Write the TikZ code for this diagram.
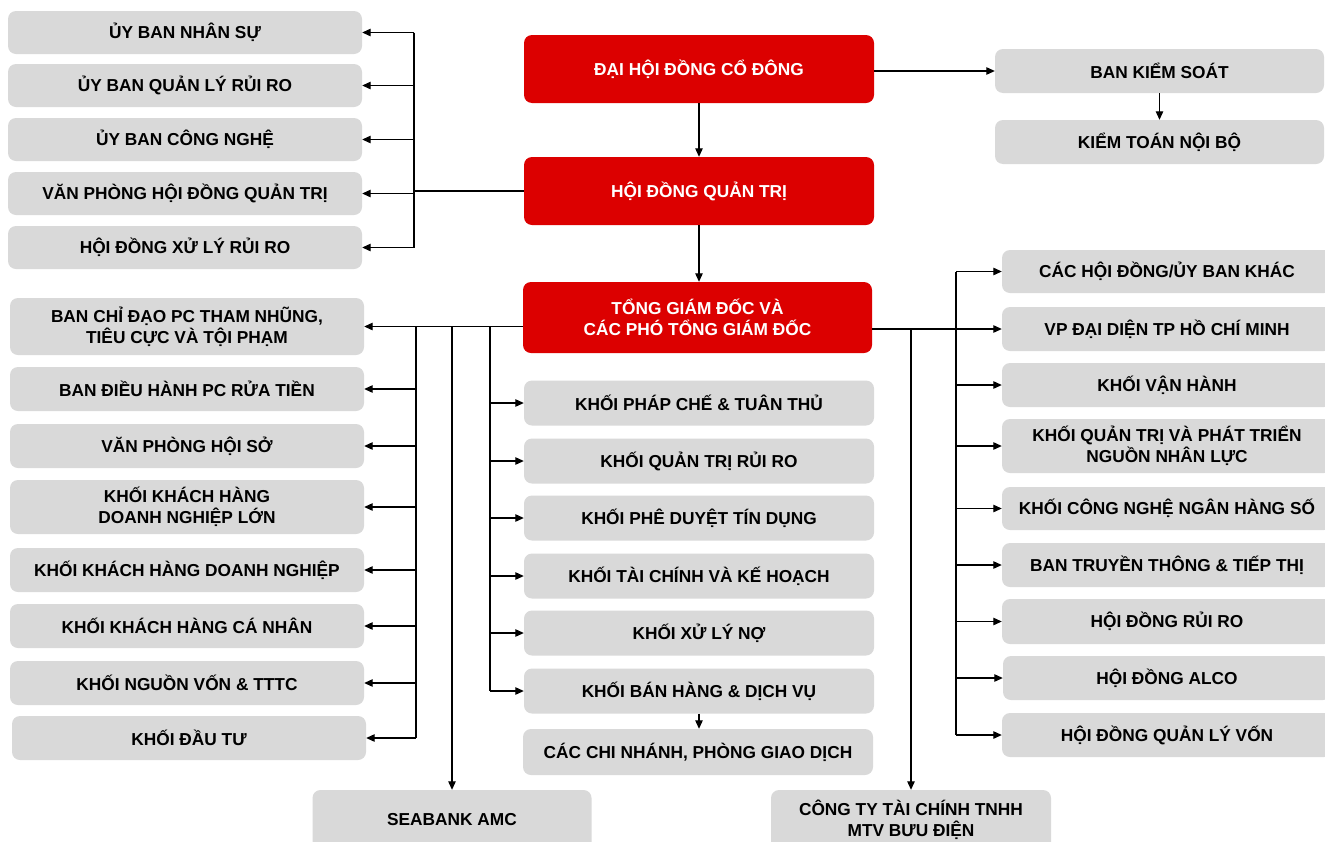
\documentclass[tikz,border=0pt]{standalone}
\usepackage{fontspec}
\setmainfont{Liberation Sans}
\usetikzlibrary{arrows.meta}
\definecolor{boxgray}{HTML}{D9D9D9}
\definecolor{boxred}{HTML}{DC0000}
\begin{document}
\begin{tikzpicture}[x=1pt,y=-1pt,
  gbox/.style={fill=boxgray, rounded corners=8pt, inner sep=0pt, align=center,
    font=\fontsize{17.3}{21}\selectfont\bfseries, text=black},
  rbox/.style={gbox, fill=boxred, text=white},
  conn/.style={line width=1.1pt, draw=black},
  arr/.style={conn, -{Triangle[length=8.5pt,width=7.5pt]}}]
\fill[white] (0,0) rectangle (1325,841);
\useasboundingbox (0,0) rectangle (1325,841);

% top-left committees
\node[gbox, minimum width=354pt, minimum height=43pt] (u1) at (185,32.5) {ỦY BAN NHÂN SỰ};
\node[gbox, minimum width=354pt, minimum height=43pt] (u2) at (185,85.5) {ỦY BAN QUẢN LÝ RỦI RO};
\node[gbox, minimum width=354pt, minimum height=43pt] (u3) at (185,139.5) {ỦY BAN CÔNG NGHỆ};
\node[gbox, minimum width=354pt, minimum height=43pt] (u4) at (185,193.5) {VĂN PHÒNG HỘI ĐỒNG QUẢN TRỊ};
\node[gbox, minimum width=354pt, minimum height=43pt] (u5) at (185,247.5) {HỘI ĐỒNG XỬ LÝ RỦI RO};

% red central
\node[rbox, minimum width=350pt, minimum height=68pt] (dh) at (699,69) {ĐẠI HỘI ĐỒNG CỔ ĐÔNG};
\node[rbox, minimum width=350pt, minimum height=68pt] (hd) at (699,191) {HỘI ĐỒNG QUẢN TRỊ};
\node[rbox, minimum width=349pt, minimum height=71pt] (tg) at (697.5,317.5) {TỔNG GIÁM ĐỐC VÀ\\CÁC PHÓ TỔNG GIÁM ĐỐC};

% top-right
\node[gbox, minimum width=329pt, minimum height=44pt] (bks) at (1159.5,71) {BAN KIỂM SOÁT};
\node[gbox, minimum width=329pt, minimum height=44pt] (kt) at (1159.5,142) {KIỂM TOÁN NỘI BỘ};

% left lower
\node[gbox, minimum width=354pt, minimum height=57pt] (l1) at (187,326.5) {BAN CHỈ ĐẠO PC THAM NHŨNG,\\TIÊU CỰC VÀ TỘI PHẠM};
\node[gbox, minimum width=354pt, minimum height=44pt] (l2) at (187,389) {BAN ĐIỀU HÀNH PC RỬA TIỀN};
\node[gbox, minimum width=354pt, minimum height=44pt] (l3) at (187,446) {VĂN PHÒNG HỘI SỞ};
\node[gbox, minimum width=354pt, minimum height=54pt] (l4) at (187,507) {KHỐI KHÁCH HÀNG\\DOANH NGHIỆP LỚN};
\node[gbox, minimum width=354pt, minimum height=44pt] (l5) at (187,570) {KHỐI KHÁCH HÀNG DOANH NGHIỆP};
\node[gbox, minimum width=354pt, minimum height=44pt] (l6) at (187,626) {KHỐI KHÁCH HÀNG CÁ NHÂN};
\node[gbox, minimum width=354pt, minimum height=44pt] (l7) at (187,683) {KHỐI NGUỒN VỐN \& TTTC};
\node[gbox, minimum width=354pt, minimum height=44pt] (l8) at (189,738) {KHỐI ĐẦU TƯ};

% middle
\node[gbox, minimum width=350pt, minimum height=45pt] (m1) at (699,403) {KHỐI PHÁP CHẾ \& TUÂN THỦ};
\node[gbox, minimum width=350pt, minimum height=45pt] (m2) at (699,461) {KHỐI QUẢN TRỊ RỦI RO};
\node[gbox, minimum width=350pt, minimum height=45pt] (m3) at (699,518) {KHỐI PHÊ DUYỆT TÍN DỤNG};
\node[gbox, minimum width=350pt, minimum height=45pt] (m4) at (699,576) {KHỐI TÀI CHÍNH VÀ KẾ HOẠCH};
\node[gbox, minimum width=350pt, minimum height=45pt] (m5) at (699,633) {KHỐI XỬ LÝ NỢ};
\node[gbox, minimum width=350pt, minimum height=45pt] (m6) at (699,691) {KHỐI BÁN HÀNG \& DỊCH VỤ};
\node[gbox, minimum width=350pt, minimum height=46pt] (m7) at (698,752) {CÁC CHI NHÁNH, PHÒNG GIAO DỊCH};

% right
\node[gbox, minimum width=330pt, minimum height=43pt] (r1) at (1167,271.5) {CÁC HỘI ĐỒNG/ỦY BAN KHÁC};
\node[gbox, minimum width=330pt, minimum height=44pt] (r2) at (1167,329) {VP ĐẠI DIỆN TP HỒ CHÍ MINH};
\node[gbox, minimum width=330pt, minimum height=44pt] (r3) at (1167,385) {KHỐI VẬN HÀNH};
\node[gbox, minimum width=330pt, minimum height=54pt] (r4) at (1167,446) {KHỐI QUẢN TRỊ VÀ PHÁT TRIỂN\\NGUỒN NHÂN LỰC};
\node[gbox, minimum width=330pt, minimum height=43pt] (r5) at (1167,508.5) {KHỐI CÔNG NGHỆ NGÂN HÀNG SỐ};
\node[gbox, minimum width=330pt, minimum height=44pt] (r6) at (1167,565) {BAN TRUYỀN THÔNG \& TIẾP THỊ};
\node[gbox, minimum width=330pt, minimum height=45pt] (r7) at (1167,621.5) {HỘI ĐỒNG RỦI RO};
\node[gbox, minimum width=328pt, minimum height=44pt] (r8) at (1167,678) {HỘI ĐỒNG ALCO};
\node[gbox, minimum width=330pt, minimum height=44pt] (r9) at (1167,735) {HỘI ĐỒNG QUẢN LÝ VỐN};

% bottom
\node[gbox, minimum width=279pt, minimum height=60pt] (sb) at (452,820) {SEABANK AMC};
\node[gbox, minimum width=280pt, minimum height=60pt] (ct) at (911,820) {CÔNG TY TÀI CHÍNH TNHH\\MTV BƯU ĐIỆN};

% bus coordinates
\coordinate (bT) at (414,0);
\coordinate (bA) at (416,0);
\coordinate (bM) at (490,0);
\coordinate (bR) at (956,0);

% connectors top
\draw[arr] (dh.south) -- (hd.north);
\draw[arr] (hd.south) -- (hd.south |- tg.north);
\draw[arr] (dh.east |- bks.west) -- (bks.west);
\draw[arr] (bks.south) -- (kt.north);

% top-left bus
\draw[conn] (hd.west) -- (bT |- hd.west);
\draw[conn] (bT |- u1.east) -- (bT |- u5.east);
\foreach \n in {u1,u2,u3,u4,u5} \draw[arr] (bT |- \n.east) -- (\n.east);

% left lower bus
\draw[arr] (tg.west |- l1.east) -- (l1.east);
\draw[conn] (bA |- l1.east) -- (bA |- l8.east);
\foreach \n in {l2,l3,l4,l5,l6,l7,l8} \draw[arr] (bA |- \n.east) -- (\n.east);
\draw[arr] (sb.north |- l1.east) -- (sb.north);

% middle bus
\draw[conn] (bM |- l1.east) -- (bM |- m6.west);
\foreach \n in {m1,m2,m3,m4,m5,m6} \draw[arr] (bM |- \n.west) -- (\n.west);
\draw[arr] (m6.south) -- (m6.south |- m7.north);

% right bus
\draw[arr] (tg.east |- r2.west) -- (r2.west);
\draw[conn] (bR |- r1.west) -- (bR |- r9.west);
\foreach \n in {r1,r3,r4,r5,r6,r7,r8,r9} \draw[arr] (bR |- \n.west) -- (\n.west);
\draw[arr] (ct.north |- r2.west) -- (ct.north);
\end{tikzpicture}
\end{document}
